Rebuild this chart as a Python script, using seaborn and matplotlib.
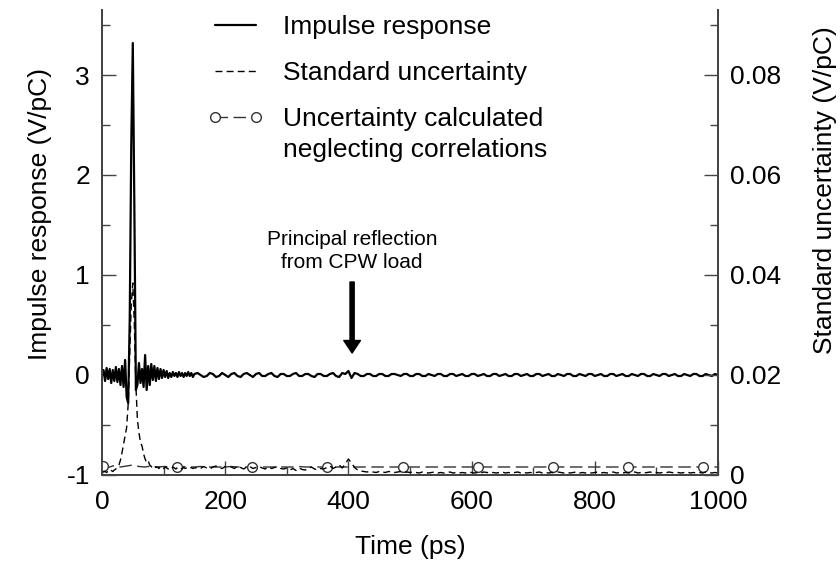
import numpy as np
import pandas as pd
import matplotlib
matplotlib.use("Agg")
import matplotlib.pyplot as plt
import seaborn as sns
from matplotlib.lines import Line2D
from matplotlib.ticker import MultipleLocator

# ---------------- data ----------------
t_fine = np.arange(0, 150.1, 2.5)          # 0 .. 150 ps, 2.5 ps sampling
t_coarse = np.arange(155, 1000.1, 5)       # 155 .. 1000 ps, 5 ps sampling

impulse_fine = [
    0.00, 0.05, -0.06, 0.07, -0.04, 0.06, -0.08, 0.05, -0.06, 0.08,
    -0.07, 0.06, -0.10, 0.09, -0.12, 0.15, -0.22, -0.28, 0.55, 2.30,
    3.32, 1.70, -0.15, -0.10, 0.12, -0.08, 0.06, -0.12, 0.20, -0.15,
    0.09, -0.10, 0.11, -0.05, 0.09, -0.06, 0.07, -0.04, 0.06, -0.03,
    0.05, -0.02, 0.04, -0.03, 0.02, -0.02, 0.03, -0.01, 0.02, -0.02,
    0.03, -0.01, 0.02, -0.02, 0.02, -0.01, 0.03, -0.01, 0.02, -0.02, 0.01,
]
impulse_coarse = [
    0.02, 0.00, -0.02, -0.01, 0.02, 0.01, -0.02, -0.01, 0.02, 0.00,
    -0.02, 0.01, 0.02, -0.01, -0.02, 0.01, 0.02, 0.00, -0.02, 0.01,
    0.02, -0.01, -0.01, 0.01, 0.02, -0.01, -0.02, 0.01, 0.01, -0.01,
    -0.01, 0.01, 0.02, -0.01, -0.01, 0.01, 0.01, -0.01, -0.02, 0.01,
    0.01, -0.01, -0.01, 0.01, 0.02, -0.01, -0.02, 0.02, 0.01, 0.04,
    -0.03, 0.02, 0.01, -0.01, -0.01, 0.01, 0.01, -0.01, -0.01, 0.01,
    0.01, -0.01, -0.01, 0.01, 0.01, 0.00, -0.01, 0.01, 0.01, -0.01,
    -0.01, 0.01, 0.01, -0.01, -0.01, 0.01, 0.00, -0.01, 0.01, 0.01,
    -0.01, -0.01, 0.01, 0.01, -0.01, 0.00, 0.01, -0.01, -0.01, 0.01,
    0.01, -0.01, 0.00, 0.01, -0.01, -0.01, 0.01, 0.01, -0.01, 0.00,
    0.01, -0.01, -0.01, 0.01, 0.01, -0.01, 0.00, 0.01, -0.01, -0.01,
    0.01, 0.01, -0.01, 0.00, 0.01, -0.01, -0.01, 0.01, 0.00, -0.01,
    0.01, 0.01, -0.01, -0.01, 0.01, 0.00, -0.01, 0.01, 0.01, -0.01,
    0.00, 0.01, -0.01, -0.01, 0.01, 0.01, -0.01, 0.00, 0.01, -0.01,
    -0.01, 0.01, 0.00, -0.01, 0.01, 0.01, -0.01, -0.01, 0.01, 0.00,
    -0.01, 0.01, 0.01, -0.01, 0.00, 0.01, -0.01, -0.01, 0.01, 0.00,
    -0.01, 0.01, 0.01, -0.01, -0.01, 0.01, 0.00, -0.01, 0.01, 0.00,
]

std_fine = [
    0.0008, 0.0006, 0.0007, 0.0005, 0.0008, 0.0006, 0.0009, 0.0007, 0.0010, 0.0012,
    0.0015, 0.0020, 0.0030, 0.0045, 0.0062, 0.0080, 0.0095, 0.0142, 0.0240, 0.0340,
    0.0384, 0.0300, 0.0180, 0.0110, 0.0085, 0.0065, 0.0058, 0.0042, 0.0032, 0.0025,
    0.0028, 0.0020, 0.0017, 0.0014, 0.0018, 0.0015, 0.0016, 0.0013, 0.0017, 0.0014,
    0.0013, 0.0016, 0.0014, 0.0012, 0.0015, 0.0013, 0.0016, 0.0014, 0.0012, 0.0015,
    0.0013, 0.0014, 0.0012, 0.0015, 0.0013, 0.0014, 0.0012, 0.0013, 0.0015, 0.0013, 0.0014,
]
std_coarse = [
    0.0015, 0.0013, 0.0017, 0.0014, 0.0012, 0.0016, 0.0018, 0.0014, 0.0013, 0.0017,
    0.0014, 0.0016, 0.0013, 0.0018, 0.0015, 0.0012, 0.0016, 0.0017, 0.0013, 0.0015,
    0.0017, 0.0014, 0.0012, 0.0016, 0.0013, 0.0015, 0.0017, 0.0013, 0.0012, 0.0014,
    0.0010, 0.0013, 0.0009, 0.0014, 0.0011, 0.0010, 0.0013, 0.0016, 0.0012, 0.0010,
    0.0013, 0.0012, 0.0015, 0.0018, 0.0013, 0.0016, 0.0020, 0.0014, 0.0022, 0.0032,
    0.0024, 0.0015, 0.0010, 0.0008, 0.0007, 0.0006, 0.0007, 0.0006, 0.0005, 0.0007,
    0.0006, 0.0005, 0.0007, 0.0006, 0.0005, 0.0006, 0.0007, 0.0005, 0.0006, 0.0005,
    0.0006, 0.0005, 0.0004, 0.0006, 0.0005, 0.0004, 0.0005, 0.0006, 0.0004, 0.0005,
    0.0004, 0.0005, 0.0006, 0.0004, 0.0005, 0.0004, 0.0005, 0.0004, 0.0006, 0.0005,
    0.0004, 0.0005, 0.0004, 0.0006, 0.0005, 0.0004, 0.0005, 0.0004, 0.0005, 0.0006,
    0.0004, 0.0005, 0.0004, 0.0005, 0.0006, 0.0004, 0.0005, 0.0004, 0.0005, 0.0004,
    0.0005, 0.0006, 0.0004, 0.0005, 0.0004, 0.0005, 0.0004, 0.0006, 0.0005, 0.0004,
    0.0005, 0.0004, 0.0005, 0.0006, 0.0004, 0.0005, 0.0004, 0.0005, 0.0004, 0.0005,
    0.0006, 0.0004, 0.0005, 0.0004, 0.0005, 0.0006, 0.0004, 0.0005, 0.0004, 0.0005,
    0.0004, 0.0005, 0.0006, 0.0004, 0.0005, 0.0004, 0.0005, 0.0006, 0.0004, 0.0005,
    0.0004, 0.0005, 0.0004, 0.0006, 0.0005, 0.0004, 0.0005, 0.0004, 0.0005, 0.0006,
    0.0004, 0.0005, 0.0004, 0.0005, 0.0004, 0.0006, 0.0005, 0.0004, 0.0005, 0.0004,
]

# uncertainty neglecting correlations (10 ps sampling)
nc_t = np.arange(0, 1000.1, 10)
nc_u = [
    0.0018, 0.0015, 0.0019, 0.0016, 0.0018, 0.0020, 0.0017, 0.0016, 0.0018, 0.0016,
    0.0017, 0.0016, 0.0016, 0.0017, 0.0016, 0.0016, 0.0017, 0.0016, 0.0016, 0.0016,
    0.0016, 0.0017, 0.0016, 0.0016, 0.0016, 0.0017, 0.0016, 0.0016, 0.0016, 0.0016,
    0.0016, 0.0016, 0.0017, 0.0016, 0.0016, 0.0016, 0.0016, 0.0017, 0.0016, 0.0016,
    0.0016, 0.0016, 0.0016, 0.0016, 0.0016, 0.0016, 0.0016, 0.0016, 0.0016, 0.0016,
    0.0016, 0.0016, 0.0016, 0.0016, 0.0016, 0.0016, 0.0016, 0.0016, 0.0016, 0.0016,
    0.0016, 0.0016, 0.0016, 0.0016, 0.0016, 0.0016, 0.0016, 0.0016, 0.0016, 0.0016,
    0.0016, 0.0016, 0.0016, 0.0016, 0.0016, 0.0016, 0.0016, 0.0016, 0.0016, 0.0016,
    0.0016, 0.0016, 0.0016, 0.0016, 0.0016, 0.0016, 0.0016, 0.0016, 0.0016, 0.0016,
    0.0016, 0.0016, 0.0016, 0.0016, 0.0016, 0.0016, 0.0016, 0.0016, 0.0016, 0.0016,
    0.0016,
]
nc_marker_t = [2, 122, 244, 366, 488, 610, 732, 854, 976]
nc_marker_u = [0.0017, 0.0016, 0.0016, 0.0016, 0.0016, 0.0016, 0.0016, 0.0016, 0.0016]

x_ticks = [0, 200, 400, 600, 800, 1000]
x_ticklabels = ["0", "200", "400", "600", "800", "1000"]
y_left_ticks = [-1, 0, 1, 2, 3]
y_left_ticklabels = ["-1", "0", "1", "2", "3"]
y_right_ticks = [0, 0.02, 0.04, 0.06, 0.08]
y_right_ticklabels = ["0", "0.02", "0.04", "0.06", "0.08"]

legend_labels = ["Impulse response", "Standard uncertainty", "Uncertainty calculated"]
legend_label_cont = "neglecting correlations"
annotation_text = "Principal reflection\nfrom CPW load"
annotation_t = 406

# ---------------- figure ----------------
sns.set_style("ticks")
plt.rcParams['font.family'] = ['Liberation Sans', 'DejaVu Sans']
plt.rcParams['axes.unicode_minus'] = False
plt.rcParams['text.color'] = 'black'
plt.rcParams['axes.labelcolor'] = 'black'

W, H = 840, 563
fig = plt.figure(figsize=(W / 100, H / 100), dpi=100)
ax = fig.add_axes([102 / W, (H - 475) / H, 616 / W, 465 / H])
ax2 = ax.twinx()

df = pd.DataFrame({
    "t": np.concatenate([t_fine, t_coarse]),
    "impulse": impulse_fine + impulse_coarse,
    "std": std_fine + std_coarse,
})
df_nc = pd.DataFrame({"t": nc_t, "u": nc_u})
df_nc_m = pd.DataFrame({"t": nc_marker_t, "u": nc_marker_u})

sns.lineplot(data=df, x="t", y="impulse", ax=ax, color="black", lw=1.6,
             estimator=None, sort=False)
sns.lineplot(data=df_nc, x="t", y="u", ax=ax2, color="#333333", lw=1.0,
             linestyle=(0, (9, 4)), estimator=None, sort=False)
sns.lineplot(data=df_nc_m, x="t", y="u", ax=ax2, color="#333333", lw=0,
             marker="o", markersize=7, markerfacecolor="white",
             markeredgecolor="#333333", markeredgewidth=1.0,
             estimator=None, sort=False)
sns.lineplot(data=df, x="t", y="std", ax=ax2, color="black", lw=1.0,
             linestyle=(0, (5, 3)), estimator=None, sort=False)

# axes limits and ticks
ax.set_xlim(0, 1000)
ax.set_ylim(-1, 3.65)
ax2.set_ylim(0, 0.093)
ax.set_xticks(x_ticks)
ax.set_xticklabels(x_ticklabels)
ax.xaxis.set_minor_locator(MultipleLocator(100))
ax.set_yticks(y_left_ticks)
ax.set_yticklabels(y_left_ticklabels)
ax.yaxis.set_minor_locator(MultipleLocator(0.5))
ax2.set_yticks(y_right_ticks)
ax2.set_yticklabels(y_right_ticklabels)
ax2.yaxis.set_minor_locator(MultipleLocator(0.01))

spine_col = "#444444"
for a in (ax, ax2):
    a.tick_params(which="major", direction="in", length=10, width=1.0,
                  color=spine_col, labelsize=19, pad=8.6, labelcolor="black")
    a.tick_params(which="minor", direction="in", length=5.8, width=1.0,
                  color=spine_col)
    for s in a.spines.values():
        s.set_color(spine_col)
        s.set_linewidth(1.3)
    a.spines["top"].set_visible(False)
    a.set_facecolor("none")
ax.tick_params(axis="x", which="major", pad=11.0)

ax.set_xlabel("Time (ps)", fontsize=19)
ax.set_ylabel("Impulse response (V/pC)", fontsize=19)
ax2.set_ylabel("Standard uncertainty (V/pC)", fontsize=19)
ax.xaxis.set_label_coords(0.5, -0.128)
ax.yaxis.set_label_coords(-0.0812, 0.561)
ax2.yaxis.set_label_coords(1.155, 0.613)

# annotation arrow
ax.annotate("", xy=(annotation_t, 0.22), xytext=(annotation_t, 0.93),
            arrowprops=dict(facecolor="black", edgecolor="black", width=3,
                            headwidth=12, headlength=9, shrink=0))
ax.text(annotation_t, 1.24, annotation_text, ha="center", va="center",
        fontsize=15, linespacing=1.25)

# legend
handles = [
    Line2D([], [], color="black", lw=1.6),
    Line2D([], [], color="black", lw=1.0, linestyle=(0, (5, 3))),
    Line2D([], [], color="#333333", lw=1.0, linestyle=(0, (9, 4)), marker="o",
           markersize=7, markerfacecolor="white", markeredgecolor="#333333"),
]
ax2.legend(handles, legend_labels, loc="upper left",
           bbox_to_anchor=(207 / W, (H - 15) / H), bbox_transform=fig.transFigure,
           frameon=False, borderpad=0, borderaxespad=0, fontsize=19,
           handlelength=2.16, handletextpad=0.72, labelspacing=0.83, numpoints=2)
fig.text(283 / W, (H - 150) / H, legend_label_cont, ha="left", va="center",
         fontsize=19)

fig.savefig("out.png", dpi=100)
